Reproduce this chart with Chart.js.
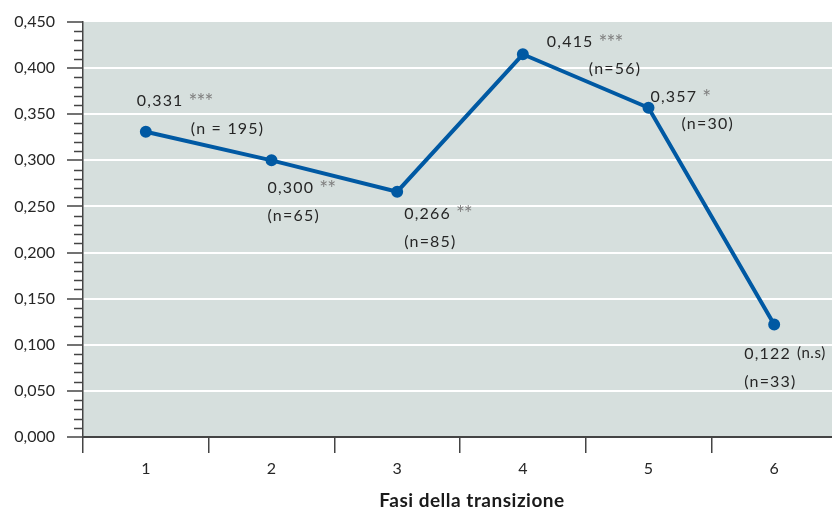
<!DOCTYPE html>
<html><head><meta charset="utf-8">
<script src="https://cdn.jsdelivr.net/npm/chart.js@4"></script>
<style>html,body{margin:0;padding:0;background:#fff;overflow:hidden}#wrap{width:832px;height:510px;position:relative;overflow:hidden}</style>
</head><body><div id="wrap"><canvas id="c" width="845" height="510"></canvas></div>
<script>
const categories = ['1','2','3','4','5','6'];
const values = [0.331, 0.300, 0.266, 0.415, 0.357, 0.122];
const significance = ['***','**','**','***','*','(n.s)'];
const sampleLabels = ['(n = 195)','(n=65)','(n=85)','(n=56)','(n=30)','(n=33)'];
const xTitle = 'Fasi della transizione';

const fmt = v => v.toFixed(3).replace('.', ',');
// label placement offsets relative to each point (style, not data)
const labelOffsets = [
  {vx:-9, vy:-31, nx:45, ny:-3},
  {vx:-4, vy:28, nx:-4, ny:56},
  {vx:7, vy:22, nx:7, ny:50},
  {vx:24, vy:-12, nx:66, ny:15},
  {vx:2, vy:-11, nx:33, ny:16},
  {vx:-30, vy:29, nx:-30, ny:57}
];
const TXT = '#262626';
const AX = '#444';
const FONT = 'Lato, "Open Sans", sans-serif';

const bgPlugin = {
  id: 'bg',
  beforeDraw(chart) {
    const {ctx, chartArea: a} = chart;
    ctx.save();
    ctx.fillStyle = '#d6dfdd';
    ctx.fillRect(a.left, a.top, a.right - a.left, a.bottom - a.top);
    ctx.restore();
  }
};
const minorPlugin = {
  id: 'minor',
  afterDraw(chart) {
    const y = chart.scales.y, ctx = chart.ctx;
    const x0 = chart.chartArea.left;
    ctx.save();
    ctx.strokeStyle = AX; ctx.lineWidth = 1.5;
    for (let i = 0; i <= 45; i++) {
      if (i % 5 === 0) continue;
      const py = Math.round(y.getPixelForValue(i / 100)) + 0.5;
      ctx.beginPath(); ctx.moveTo(x0 - 9, py); ctx.lineTo(x0, py); ctx.stroke();
    }
    // axis title
    ctx.font = 'bold 19px ' + FONT;
    ctx.letterSpacing = '0.5px';
    ctx.fillStyle = '#1a1a1a';
    ctx.textAlign = 'center';
    ctx.textBaseline = 'middle';
    ctx.fillText(xTitle, (chart.chartArea.left + chart.chartArea.right) / 2 + 12, 501);
    ctx.restore();
  }
};
const labelPlugin = {
  id: 'labels',
  afterDatasetsDraw(chart) {
    const ctx = chart.ctx;
    const meta = chart.getDatasetMeta(0);
    ctx.save();
    ctx.textBaseline = 'middle';
    ctx.textAlign = 'left';
    meta.data.forEach((pt, i) => {
      const o = labelOffsets[i];
      const x = pt.x + o.vx, y = pt.y + o.vy;
      ctx.font = '16px ' + FONT;
      ctx.letterSpacing = '1.2px';
      ctx.fillStyle = TXT;
      const main = fmt(values[i]);
      ctx.fillText(main, x, y);
      const w = ctx.measureText(main).width;
      const s = significance[i];
      if (s.startsWith('*')) {
        ctx.font = '21px ' + FONT;
        ctx.letterSpacing = '-1px';
        ctx.fillStyle = '#808080';
        ctx.fillText(s, x + w + 5, y + 1);
      } else {
        ctx.font = '15px ' + FONT;
        ctx.letterSpacing = '0.6px';
        ctx.fillStyle = TXT;
        ctx.fillText(s, x + w + 6, y);
      }
      ctx.font = '16px ' + FONT;
      ctx.letterSpacing = '1.2px';
      ctx.fillStyle = TXT;
      ctx.fillText(sampleLabels[i], pt.x + o.nx, pt.y + o.ny);
    });
    ctx.restore();
  }
};

new Chart(document.getElementById('c'), {
  type: 'line',
  data: {
    labels: categories,
    datasets: [{
      data: values,
      borderColor: '#0059a3',
      backgroundColor: '#0059a3',
      borderWidth: 4,
      pointRadius: 4,
      pointHoverRadius: 4,
      tension: 0,
      fill: false
    }]
  },
  options: {
    responsive: false,
    animation: false,
    events: [],
    layout: {padding: {top: 22, right: 0, bottom: 0, left: 0}},
    plugins: {legend: {display: false}, tooltip: {enabled: false}},
    scales: {
      x: {
        offset: true,
        grid: {offset: true, drawOnChartArea: false, drawTicks: true, tickLength: 16, color: AX, lineWidth: 1.5},
        border: {display: true, color: AX, width: 2},
        ticks: {color: TXT, font: {family: FONT, size: 16}, padding: 6},
        afterFit(s) { s.height = 73; }
      },
      y: {
        min: 0, max: 0.45,
        grid: {
          color: ctx => (ctx.tick && ctx.tick.value > 0.0001 && ctx.tick.value < 0.4499) ? '#ffffff' : 'rgba(0,0,0,0)',
          lineWidth: 2, drawTicks: true, tickLength: 16, tickColor: AX, tickWidth: 1.5
        },
        border: {display: true, color: AX, width: 1.5},
        ticks: {stepSize: 0.05, color: TXT, font: {family: FONT, size: 16}, padding: 12, callback: v => fmt(v)},
        afterFit(s) { s.width = 83; }
      }
    }
  },
  plugins: [bgPlugin, minorPlugin, labelPlugin]
});
</script>
</body></html>
